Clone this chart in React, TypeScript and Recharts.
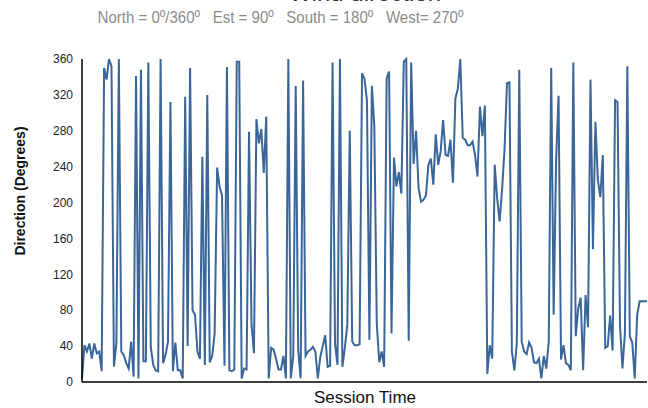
import { LineChart, Line, XAxis, YAxis } from 'recharts'

// wind direction in degrees, one reading per session sample
const directions: number[] = [
  4, 41, 34, 43, 26, 43, 32, 34, 12, 350, 337, 360, 352, 17, 43, 360, 34, 30, 21, 15, 45, 6, 341, 4, 348, 23, 23, 356, 39, 19, 13,
  12, 360, 21, 30, 45, 312, 12, 44, 13, 13, 4, 318, 40, 350, 80, 75, 34, 26, 251, 19, 320, 22, 29, 54, 239, 218, 208, 18, 351, 13, 12, 14, 357, 357, 4, 15, 14,
  279, 65, 32, 293, 266, 282, 233, 296, 4, 38, 36, 26, 14, 14, 29, 4, 360, 4, 29, 330, 36, 4, 336, 29, 34, 36, 39, 34, 4, 28, 40, 52, 17, 18, 356, 43,
  19, 360, 17, 38, 64, 280, 45, 41, 41, 42, 344, 338, 314, 47, 330, 285, 65, 22, 34, 17, 338, 346, 54, 250, 218, 234, 210, 357, 360, 46, 356, 243, 280, 216, 201, 203, 208,
  242, 249, 220, 276, 242, 257, 292, 253, 252, 270, 222, 316, 327, 360, 272, 270, 264, 264, 268, 253, 229, 307, 274, 308, 9, 41, 26, 242, 205, 179, 214, 259, 333, 334, 34, 13, 43, 348,
  45, 34, 31, 44, 38, 22, 21, 26, 4, 29, 15, 45, 350, 75, 247, 319, 25, 41, 21, 19, 13, 356, 51, 82, 94, 13, 97, 61, 337, 148, 290, 225, 206, 253, 38, 40, 74, 35, 314, 312, 64, 15, 54, 352, 51, 44, 4, 75, 90, 90, 90, 90,
]

const yTicks = [0, 40, 80, 120, 160, 200, 240, 280, 320, 360]

const title = 'Wind direction'
const subtitle = 'North = 0º/360º   Est = 90º   South = 180º   West= 270º'

const data = directions.map((d, i) => ({ t: i, dir: d }))

export default function App() {
  return (
    <div
      style={{
        position: 'absolute',
        left: 0,
        top: 0,
        width: 648,
        height: 408,
        overflow: 'hidden',
        background: '#fff',
        fontFamily: '"Liberation Sans", Arial, sans-serif',
      }}
    >
      {/* title sits mostly above the frame, as in the source image */}
      <div
        style={{
          position: 'absolute',
          left: 82,
          width: 566,
          top: -20,
          textAlign: 'center',
          fontSize: 24,
          color: '#333',
          lineHeight: '26px',
        }}
      >
        {title}
      </div>
      <div
        style={{
          position: 'absolute',
          left: 0,
          width: 561,
          top: 8,
          textAlign: 'center',
          fontSize: 17,
          color: '#8c8c8c',
          whiteSpace: 'pre',
          lineHeight: '20px',
          transform: 'scaleX(0.885)',
          transformOrigin: '280.5px 0',
        }}
      >
        {subtitle}
      </div>
      <div
        style={{
          position: 'absolute',
          left: 20,
          top: 191,
          transform: 'translate(-50%, -50%) rotate(-90deg)',
          fontSize: 14,
          fontWeight: 'bold',
          color: '#111',
          whiteSpace: 'nowrap',
        }}
      >
        Direction (Degrees)
      </div>
      <div
        style={{
          position: 'absolute',
          left: 82,
          width: 566,
          top: 388,
          textAlign: 'center',
          fontSize: 17,
          color: '#111',
          lineHeight: '20px',
        }}
      >
        Session Time
      </div>
      <div style={{ position: 'absolute', left: 0, top: 0 }}>
        <LineChart width={648} height={408} data={data} margin={{ top: 59, right: 1, left: 0, bottom: 25 }}>
          <XAxis
            dataKey="t"
            tick={false}
            tickLine={false}
            height={1}
            axisLine={{ stroke: '#000', strokeWidth: 1.5 }}
          />
          <YAxis
            domain={[0, 360]}
            ticks={yTicks}
            width={82}
            tickLine={false}
            tickSize={7}
            tickMargin={2}
            axisLine={{ stroke: '#000', strokeWidth: 1.5 }}
            tick={{ fontSize: 12, fill: '#222' }}
            interval={0}
          />
          <Line
            type="linear"
            dataKey="dir"
            stroke="#3a6699"
            strokeWidth={2}
            dot={false}
            isAnimationActive={false}
          />
        </LineChart>
      </div>
    </div>
  )
}
